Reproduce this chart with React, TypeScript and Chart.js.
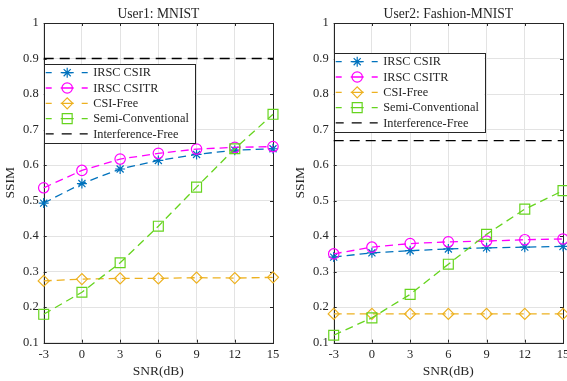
import React, { useEffect, useRef } from "react";
import { Chart, registerables } from "chart.js";

Chart.register(...registerables);

const snrLabels = ["-3", "0", "3", "6", "9", "12", "15"];

const seriesNames = ["IRSC CSIR", "IRSC CSITR", "CSI-Free", "Semi-Conventional", "Interference-Free"];

// User1: MNIST
const u1Csir = [0.493, 0.548, 0.589, 0.613, 0.630, 0.642, 0.646];
const u1Csitr = [0.536, 0.585, 0.617, 0.633, 0.645, 0.650, 0.652];
const u1CsiFree = [0.274, 0.279, 0.281, 0.281, 0.283, 0.282, 0.284];
const u1Semi = [0.180, 0.242, 0.325, 0.428, 0.538, 0.646, 0.743];
const u1IntFree = [0.9, 0.9, 0.9, 0.9, 0.9, 0.9, 0.9];

// User2: Fashion-MNIST
const u2Csir = [0.341, 0.353, 0.359, 0.364, 0.367, 0.369, 0.371];
const u2Csitr = [0.350, 0.369, 0.379, 0.384, 0.386, 0.390, 0.392];
const u2CsiFree = [0.181, 0.181, 0.181, 0.181, 0.181, 0.181, 0.181];
const u2Semi = [0.121, 0.170, 0.236, 0.321, 0.405, 0.476, 0.528];
const u2IntFree = [0.669, 0.669, 0.669, 0.669, 0.669, 0.669, 0.669];

const colors = ["#0072BD", "#FF00FF", "#EDB120", "#66D41E", "#000000"];
const styles = ["star", "circle", "rectRot", "rect", ""];
const radii = [5, 5.2, 5.5, 7, 0];

const FONT = "'Liberation Serif', 'Times New Roman', serif";
const TXT = "#262626";

function drawMarker(ctx: CanvasRenderingContext2D, style: string, x: number, y: number, r: number) {
  ctx.beginPath();
  if (style === "circle") {
    ctx.arc(x, y, r, 0, Math.PI * 2);
  } else if (style === "rect") {
    const s = r * Math.SQRT1_2;
    ctx.rect(x - s, y - s, 2 * s, 2 * s);
  } else if (style === "rectRot") {
    ctx.moveTo(x - r, y);
    ctx.lineTo(x, y - r);
    ctx.lineTo(x + r, y);
    ctx.lineTo(x, y + r);
    ctx.closePath();
  } else if (style === "star") {
    ctx.moveTo(x - r, y);
    ctx.lineTo(x + r, y);
    ctx.moveTo(x, y - r);
    ctx.lineTo(x, y + r);
    const d = r * Math.SQRT1_2;
    ctx.moveTo(x - d, y - d);
    ctx.lineTo(x + d, y + d);
    ctx.moveTo(x - d, y + d);
    ctx.lineTo(x + d, y - d);
  }
  ctx.stroke();
}

function makePlugin(title: string, legendTop: number) {
  return {
    id: "matlabDeco",
    beforeDatasetsDraw(chart: any) {
      const ctx = chart.ctx as CanvasRenderingContext2D;
      const a = chart.chartArea;
      ctx.save();
      ctx.strokeStyle = TXT;
      ctx.lineWidth = 1;
      ctx.setLineDash([]);
      ctx.strokeRect(Math.round(a.left) + 0.5, Math.round(a.top) + 0.5, Math.round(a.right - a.left), Math.round(a.bottom - a.top));
      const xs = chart.scales.x;
      const ys = chart.scales.y;
      const tl = 3;
      ctx.beginPath();
      xs.ticks.forEach((_t: any, i: number) => {
        const px = Math.round(xs.getPixelForTick(i)) + 0.5;
        ctx.moveTo(px, a.bottom);
        ctx.lineTo(px, a.bottom - tl);
        ctx.moveTo(px, a.top);
        ctx.lineTo(px, a.top + tl);
      });
      ys.ticks.forEach((t: any) => {
        const py = Math.round(ys.getPixelForValue(t.value)) + 0.5;
        ctx.moveTo(a.left, py);
        ctx.lineTo(a.left + tl, py);
        ctx.moveTo(a.right, py);
        ctx.lineTo(a.right - tl, py);
      });
      ctx.stroke();
      ctx.restore();
    },
    afterDraw(chart: any) {
      const ctx = chart.ctx as CanvasRenderingContext2D;
      const a = chart.chartArea;
      ctx.save();
      // title
      ctx.fillStyle = TXT;
      ctx.font = `13.6px ${FONT}`;
      ctx.textAlign = "center";
      ctx.textBaseline = "alphabetic";
      ctx.fillText(title, (a.left + a.right) / 2, 17.5);

      // legend
      const x0 = a.left;
      const x1 = a.left + 150.5;
      const y0 = legendTop;
      const h = 79;
      ctx.fillStyle = "#ffffff";
      ctx.fillRect(x0, y0, x1 - x0, h);
      ctx.strokeStyle = TXT;
      ctx.lineWidth = 1;
      ctx.setLineDash([]);
      ctx.strokeRect(Math.round(x0) + 0.5, Math.round(y0) + 0.5, Math.round(x1 - x0), h);
      ctx.font = `12.3px ${FONT}`;
      ctx.textAlign = "left";
      ctx.textBaseline = "middle";
      for (let i = 0; i < seriesNames.length; i++) {
        const cy = y0 + 8.7 + 15.3 * i;
        const lx = x0 + 2;
        ctx.strokeStyle = colors[i];
        ctx.lineWidth = 1.3;
        ctx.setLineDash([]);
        ctx.beginPath();
        if (i < 4) {
          ctx.moveTo(lx, cy); ctx.lineTo(lx + 6, cy);
          ctx.moveTo(lx + 15, cy); ctx.lineTo(lx + 28, cy);
          ctx.moveTo(lx + 36, cy); ctx.lineTo(lx + 42, cy);
        } else {
          ctx.moveTo(lx, cy); ctx.lineTo(lx + 8, cy);
          ctx.moveTo(lx + 16, cy); ctx.lineTo(lx + 26, cy);
          ctx.moveTo(lx + 34, cy); ctx.lineTo(lx + 42, cy);
        }
        ctx.stroke();
        if (i < 4) {
          ctx.lineWidth = 1.2;
          drawMarker(ctx, styles[i], lx + 21.5, cy, radii[i]);
        }
        ctx.fillStyle = TXT;
        ctx.fillText(seriesNames[i], x0 + 49.5, cy + 0.5);
      }
      ctx.restore();
    },
  };
}

function buildConfig(title: string, data: number[][], legendTop: number) {
  const datasets = data.map((vals, i) => ({
    label: seriesNames[i],
    data: vals,
    borderColor: colors[i],
    backgroundColor: "rgba(0,0,0,0)",
    borderWidth: 1.3,
    borderDash: i === 4 ? [10, 6] : [8, 5],
    pointStyle: i === 4 ? false : styles[i],
    pointRadius: radii[i],
    pointBorderWidth: 1.2,
    pointBorderColor: colors[i],
    pointBackgroundColor: "rgba(0,0,0,0)",
    tension: 0,
    order: 5 - i,
  }));
  return {
    type: "line" as const,
    data: { labels: snrLabels, datasets },
    options: {
      responsive: false,
      animation: false,
      devicePixelRatio: 1,
      layout: { padding: { top: 23, right: 17, bottom: 0, left: 0 } },
      plugins: { legend: { display: false }, tooltip: { enabled: false }, title: { display: false } },
      scales: {
        x: {
          type: "category",
          offset: false,
          grid: { color: "#e3e3e3", drawTicks: false, lineWidth: 1 },
          border: { display: false },
          ticks: { color: TXT, font: { family: FONT, size: 12.5 }, padding: 5, maxRotation: 0 },
          title: { display: true, text: "SNR(dB)", color: TXT, font: { family: FONT, size: 13.5 }, padding: { top: 0, bottom: 1 } },
          afterFit: (s: any) => { s.height = 38.3; },
        },
        y: {
          min: 0.1,
          max: 1,
          grid: { color: "#e3e3e3", drawTicks: false, lineWidth: 1 },
          border: { display: false },
          ticks: {
            stepSize: 0.1,
            color: TXT,
            font: { family: FONT, size: 12.5 },
            padding: 5,
            callback: (v: any) => {
              const n = Math.round(Number(v) * 10) / 10;
              return n === 1 ? "1" : n.toFixed(1);
            },
          },
          title: { display: true, text: "SSIM", color: TXT, font: { family: FONT, size: 13.5 }, padding: { top: 2, bottom: 0 } },
          afterFit: (s: any) => { s.width = 43.7; },
        },
      },
    },
    plugins: [makePlugin(title, legendTop)],
  };
}

function ChartCanvas({ title, data, legendTop, left }: { title: string; data: number[][]; legendTop: number; left: number }) {
  const ref = useRef<HTMLCanvasElement | null>(null);
  useEffect(() => {
    if (!ref.current) return;
    const chart = new Chart(ref.current, buildConfig(title, data, legendTop) as any);
    return () => chart.destroy();
  }, []);
  return (
    <canvas
      ref={ref}
      width={290}
      height={381}
      style={{ position: "absolute", left, top: 0, width: 290, height: 381 }}
    />
  );
}

export default function App() {
  return (
    <div
      style={{
        position: "fixed",
        left: 0,
        top: 0,
        width: 567,
        height: 381,
        overflow: "hidden",
        background: "#ffffff",
      }}
    >
      <ChartCanvas title="User1: MNIST" data={[u1Csir, u1Csitr, u1CsiFree, u1Semi, u1IntFree]} legendTop={64} left={0} />
      <ChartCanvas title="User2: Fashion-MNIST" data={[u2Csir, u2Csitr, u2CsiFree, u2Semi, u2IntFree]} legendTop={53} left={290} />
    </div>
  );
}
